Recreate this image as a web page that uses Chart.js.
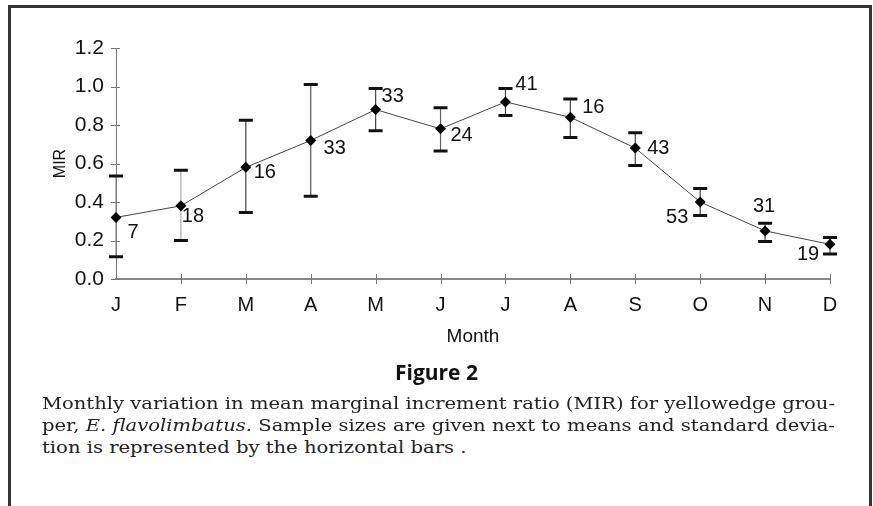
<!DOCTYPE html>
<html>
<head>
<meta charset="utf-8">
<script src="https://cdn.jsdelivr.net/npm/chart.js@4"></script>
<style>
    body { margin: 0; background: #fff; width: 873px; height: 506px; overflow: hidden; position: relative; }
    #frame { position: absolute; left: 8px; top: 5px; width: 858px; height: 510px; border: 3px solid #333; border-bottom: none; }
    #chartBox { position: absolute; left: 0; top: 0; width: 873px; height: 360px; }
    #figTitle { position: absolute; left: 0; width: 873px; top: 358px; text-align: center; font-family: "Open Sans", sans-serif; font-weight: bold; font-size: 21px; color: #111; }
    .cap { position: absolute; left: 42px; display: inline-block; font-family: "DejaVu Serif", serif; font-size: 17px; color: #222; white-space: nowrap; transform-origin: 0 0; }
</style>
</head>
<body>
<div id="frame"></div>
<div id="chartBox"><canvas id="mirChart" width="873" height="360"></canvas></div>
<div id="figTitle">Figure 2</div>
<div class="cap fit" style="top:393px">Monthly variation in mean marginal increment ratio (MIR) for yellowedge grou-</div>
<div class="cap fit" style="top:415px">per, <i>E. flavolimbatus.</i> Sample sizes are given next to means and standard devia-</div>
<div class="cap" id="lastLine" style="top:437px">tion is represented by the horizontal bars .</div>
<script>
const months = ['J', 'F', 'M', 'A', 'M', 'J', 'J', 'A', 'S', 'O', 'N', 'D'];
const mir = [0.32, 0.38, 0.58, 0.72, 0.88, 0.78, 0.92, 0.84, 0.68, 0.40, 0.25, 0.18];
const sdUpper = [0.535, 0.565, 0.825, 1.01, 0.99, 0.89, 0.99, 0.935, 0.76, 0.47, 0.29, 0.215];
const sdLower = [0.115, 0.20, 0.345, 0.43, 0.77, 0.665, 0.85, 0.735, 0.59, 0.33, 0.195, 0.13];
const sampleSizes = [7, 18, 16, 33, 33, 24, 41, 16, 43, 53, 31, 19];

// where each sample size sits relative to its point (px)
const labelOffsets = [[17, 15], [12, 11], [19, 5], [24, 8], [17, -13], [21, 7], [21, -17], [23, -10], [23, 0], [-23, 15], [-1, -24], [-22, 10]];
const whiskerColors = ['#888', '#aaa', '#444', '#555', '#444', '#666', '#444', '#444', '#444', '#444', '#444', '#444'];

// stretch the two full caption lines to the column width, last line uses the same stretch
let scales = [];
document.querySelectorAll('.fit').forEach(el => {
    let k = 793 / el.offsetWidth;
    scales.push(k);
    el.style.transform = 'scaleX(' + k + ')';
});
document.getElementById('lastLine').style.transform = 'scaleX(' + ((scales[0] + scales[1]) / 2) + ')';

const errorBars = {
    id: 'errorBars',
    beforeDatasetsDraw(chart) {
        const ctx = chart.ctx;
        const x = chart.scales.x, y = chart.scales.y;
        ctx.save();
        for (let i = 0; i < mir.length; i++) {
            let px = x.getPixelForValue(i);
            let top = y.getPixelForValue(sdUpper[i]);
            let bot = y.getPixelForValue(sdLower[i]);
            ctx.strokeStyle = whiskerColors[i];
            ctx.lineWidth = 1.2;
            ctx.beginPath();
            ctx.moveTo(px, top);
            ctx.lineTo(px, bot);
            ctx.stroke();
            ctx.strokeStyle = '#111';
            ctx.lineWidth = 3;
            ctx.beginPath();
            ctx.moveTo(px - 7, top); ctx.lineTo(px + 7, top);
            ctx.moveTo(px - 7, bot); ctx.lineTo(px + 7, bot);
            ctx.stroke();
        }
        ctx.restore();
    }
};

const crossTicks = {
    id: 'crossTicks',
    afterDraw(chart) {
        const ctx = chart.ctx;
        const x = chart.scales.x, y = chart.scales.y;
        ctx.save();
        ctx.strokeStyle = '#777';
        ctx.lineWidth = 1;
        ctx.beginPath();
        x.ticks.forEach((t, i) => {
            if (i === 0) return;
            let px = Math.round(x.getPixelForTick(i)) + 0.5;
            ctx.moveTo(px, y.bottom - 5);
            ctx.lineTo(px, y.bottom + 5);
        });
        y.ticks.forEach((t, i) => {
            let py = Math.round(y.getPixelForTick(i)) + 0.5;
            ctx.moveTo(x.left - 5, py);
            ctx.lineTo(x.left + 4, py);
        });
        ctx.stroke();
        ctx.restore();
    }
};

const sizeLabels = {
    id: 'sizeLabels',
    afterDatasetsDraw(chart) {
        const ctx = chart.ctx;
        const pts = chart.getDatasetMeta(0).data;
        ctx.save();
        ctx.font = '20px "Liberation Sans", Arial, sans-serif';
        ctx.fillStyle = '#111';
        ctx.textAlign = 'center';
        ctx.textBaseline = 'middle';
        pts.forEach((p, i) => {
            ctx.fillText(String(sampleSizes[i]), p.x + labelOffsets[i][0], p.y + labelOffsets[i][1]);
        });
        ctx.restore();
    }
};

new Chart(document.getElementById('mirChart'), {
    type: 'line',
    data: {
        labels: months,
        datasets: [{
            data: mir,
            borderColor: '#444',
            borderWidth: 1,
            pointStyle: 'rectRot',
            pointRadius: 5.5,
            pointBackgroundColor: '#000',
            pointBorderColor: '#000',
            pointBorderWidth: 0,
            tension: 0
        }]
    },
    options: {
        responsive: false,
        animation: false,
        events: [],
        layout: { padding: { left: 51, top: 48, right: 43, bottom: 12 } },
        plugins: { legend: { display: false }, tooltip: { enabled: false } },
        scales: {
            x: {
                type: 'category',
                offset: false,
                grid: { display: true, drawOnChartArea: false, drawTicks: false },
                border: { display: true, color: '#888', width: 2 },
                ticks: { color: '#111', padding: 14, maxRotation: 0, autoSkip: false, font: { family: '"Liberation Sans", Arial, sans-serif', size: 20 } },
                title: { display: true, text: 'Month', color: '#111', padding: 0, font: { family: '"Liberation Sans", Arial, sans-serif', size: 19 } },
                afterFit(scale) { scale.height = 69; }
            },
            y: {
                min: 0,
                max: 1.2,
                grid: { display: true, drawOnChartArea: false, drawTicks: false },
                border: { display: true, color: '#777', width: 1 },
                ticks: { stepSize: 0.2, color: '#111', padding: 12, callback: v => v.toFixed(1), font: { family: '"Liberation Sans", Arial, sans-serif', size: 21 } },
                title: { display: true, text: 'MIR', color: '#111', padding: 0, font: { family: '"Liberation Sans", Arial, sans-serif', size: 16 } },
                afterFit(scale) { scale.width = 65; }
            }
        }
    },
    plugins: [errorBars, crossTicks, sizeLabels]
});
</script>
</body>
</html>
